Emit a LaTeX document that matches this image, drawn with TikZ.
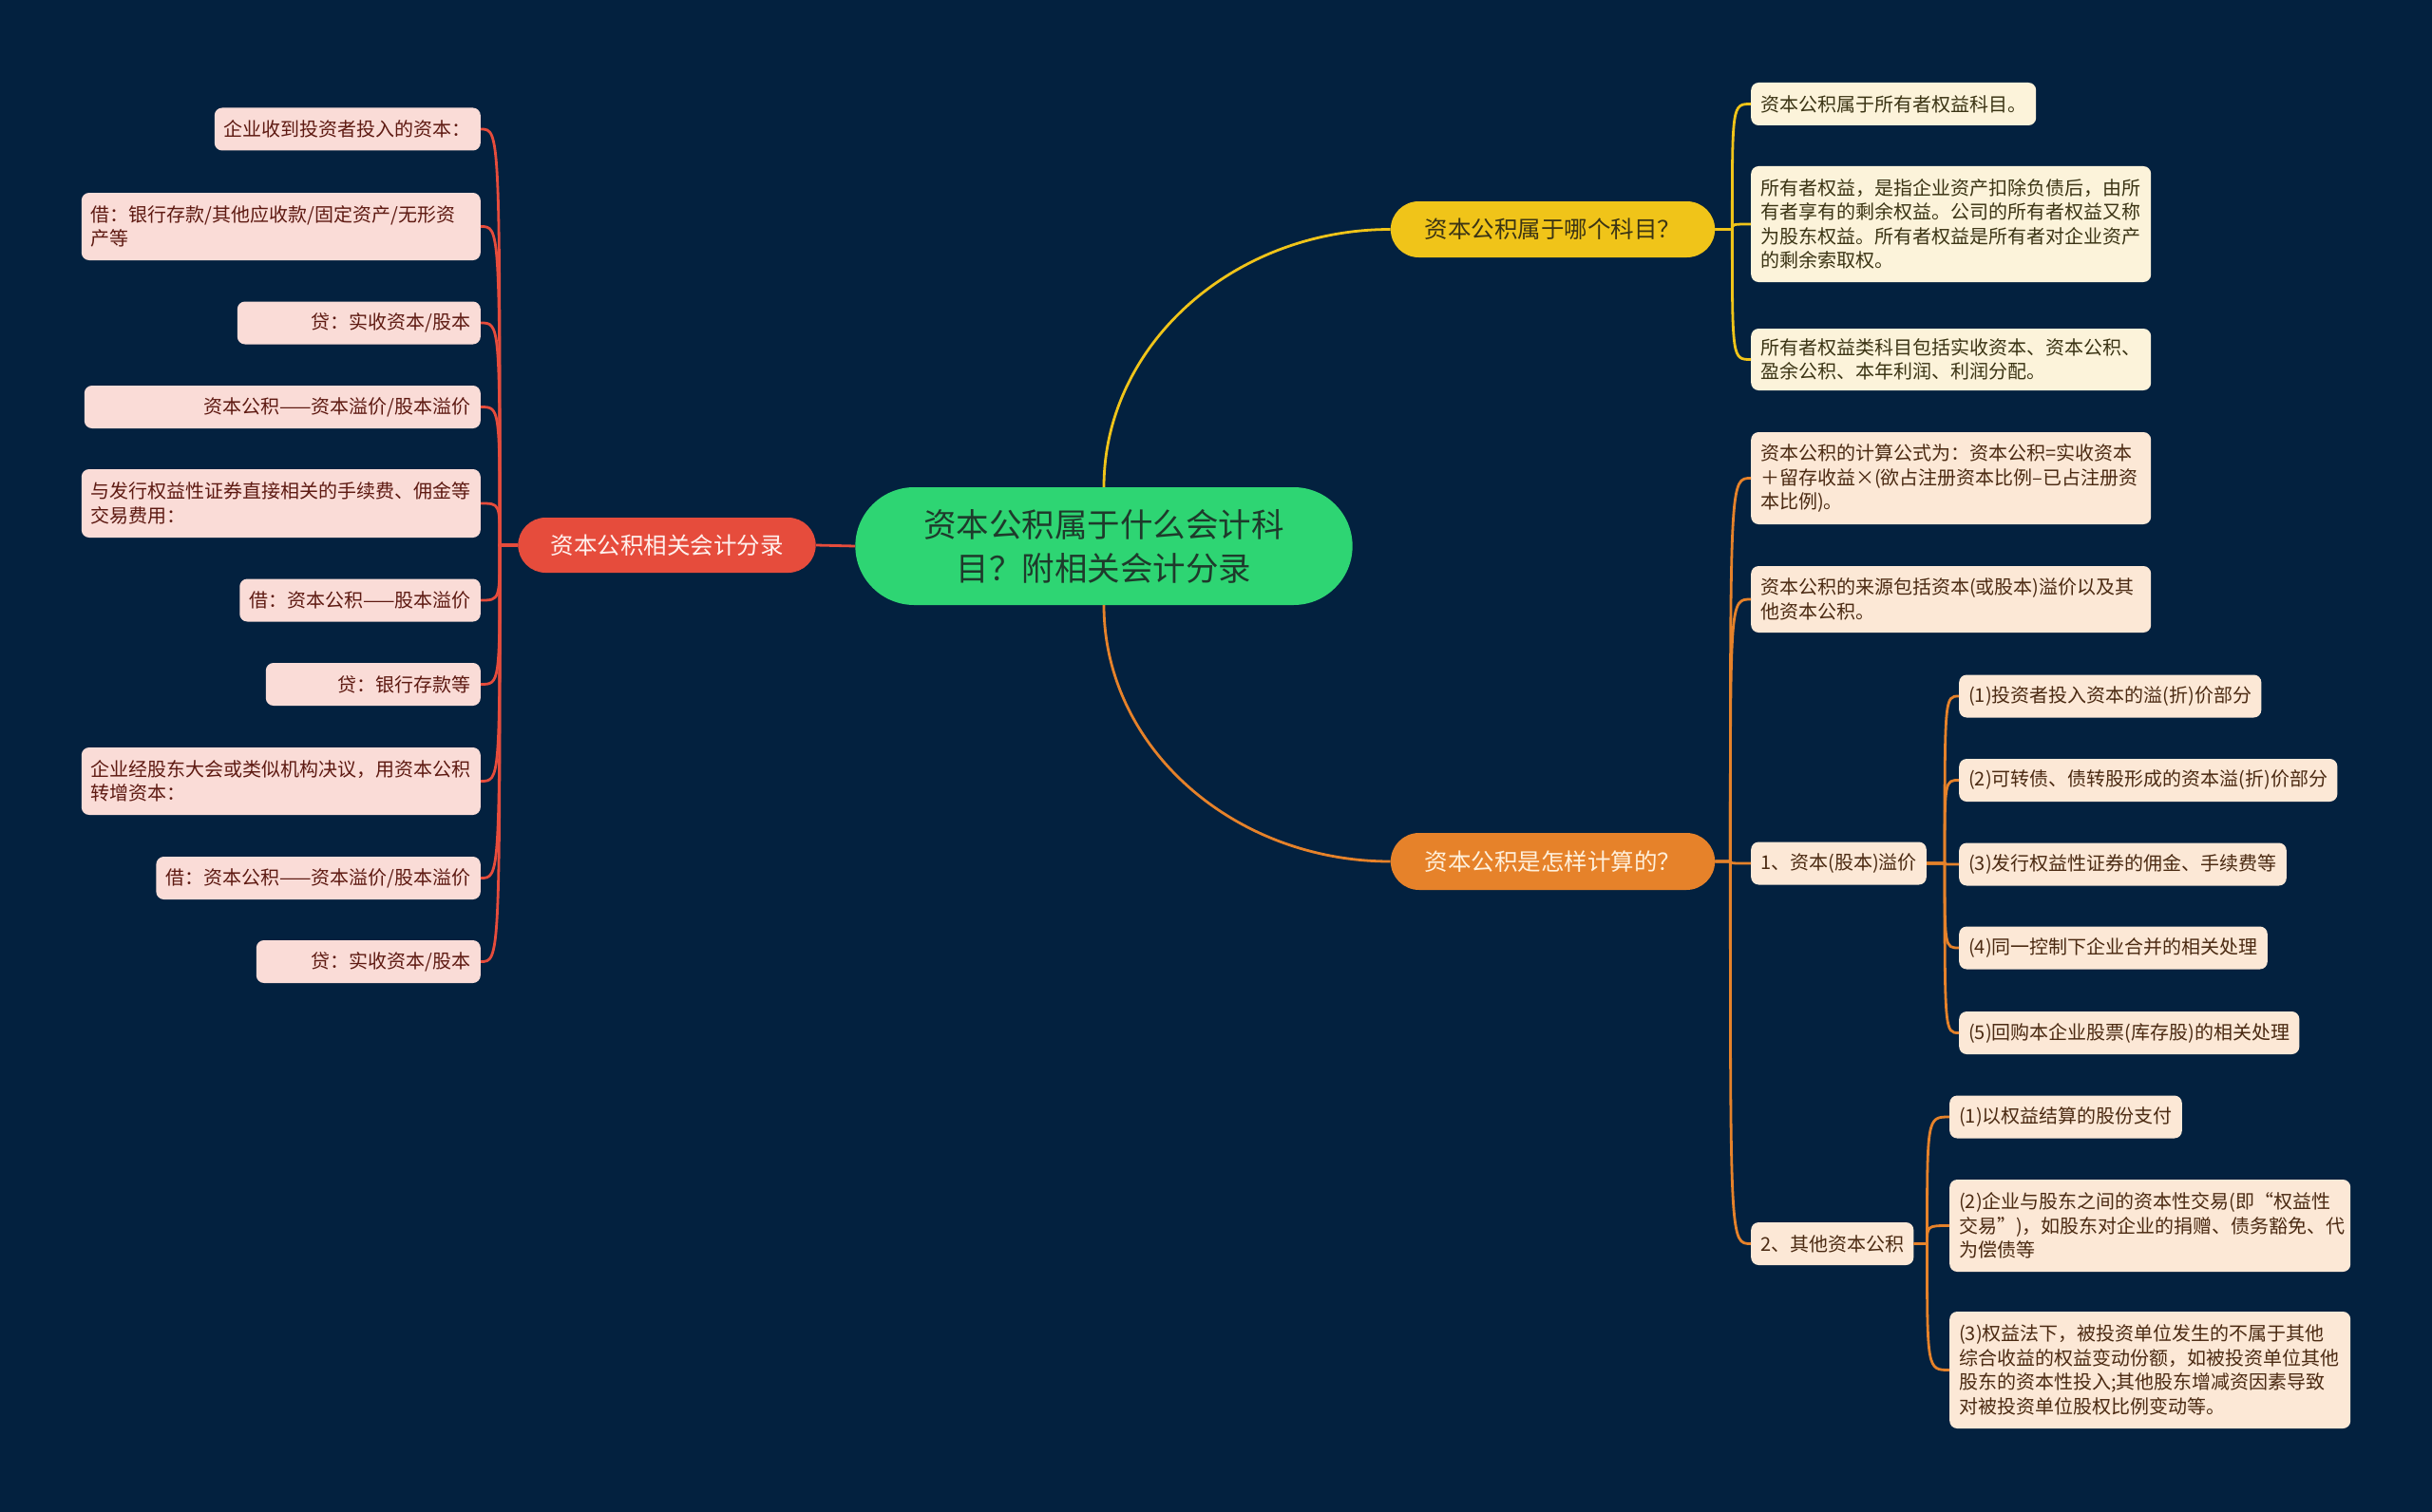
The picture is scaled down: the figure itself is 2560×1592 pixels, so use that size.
\documentclass[tikz,border=0pt]{standalone}
\usepackage{fontspec}
\setmainfont{Noto Sans CJK SC}
\usepackage{tikz}
\usetikzlibrary{shapes.misc}
\definecolor{Navy}{HTML}{03213F}
\definecolor{RootFill}{HTML}{2ED573}
\definecolor{RootText}{HTML}{1E3A2B}
\definecolor{RedMain}{HTML}{E64C3C}
\definecolor{RedLeaf}{HTML}{FADCD7}
\definecolor{RedText}{HTML}{5E1A12}
\definecolor{RedTopicText}{HTML}{FFF1EE}
\definecolor{YellowMain}{HTML}{F0C419}
\definecolor{YellowLeaf}{HTML}{FCF3DA}
\definecolor{YellowText}{HTML}{3B3414}
\definecolor{OrangeMain}{HTML}{E6822A}
\definecolor{OrangeLeaf}{HTML}{FCE8D6}
\definecolor{OrangeText}{HTML}{4B2A12}
\definecolor{OrangeTopicText}{HTML}{FFF0DB}
\tikzset{
  rootnode/.style={rounded rectangle, fill=RootFill, text=RootText,
    minimum width=530pt, minimum height=124pt, align=center,
    font=\fontsize{34.5}{46}\selectfont},
  topic/.style={rounded rectangle, minimum width=348pt, minimum height=59pt,
    font=\fontsize{24.5}{30}\selectfont},
  leaf/.style={rectangle, rounded corners=8pt, inner xsep=10pt, inner ysep=6pt,
    minimum height=45pt, font=\fontsize{20}{25.5}\selectfont},
  redleaf/.style={leaf, fill=RedLeaf, text=RedText, anchor=east},
  yellowleaf/.style={leaf, fill=YellowLeaf, text=YellowText, anchor=west},
  orangeleaf/.style={leaf, fill=OrangeLeaf, text=OrangeText, anchor=west},
  redlink/.style={draw=RedMain, line width=2.8pt},
  yellowlink/.style={draw=YellowMain, line width=2.8pt},
  orangelink/.style={draw=OrangeMain, line width=2.8pt}
}
\begin{document}
\begin{tikzpicture}[x=1pt, y=-1pt]
  \fill[Navy] (0,0) rectangle (2560,1592);
  \useasboundingbox (0,0) rectangle (2560,1592);

  % centre and main topics
  \node[rootnode] (root) at (1162,575) {资本公积属于什么会计科\\目？附相关会计分录};
  \node[topic, fill=RedMain, text=RedTopicText, minimum width=320pt, minimum height=58pt] (entries) at (702,574) {资本公积相关会计分录};
  \node[topic, fill=YellowMain, text=YellowText] (subject) at (1634.5,241.5) {资本公积属于哪个科目？};
  \node[topic, fill=OrangeMain, text=OrangeTopicText, minimum height=60pt] (calc) at (1634.5,907) {资本公积是怎样计算的？};

  % left: journal entries
  \node[redleaf] (r1) at (506,136) {企业收到投资者投入的资本：};
  \node[redleaf, text width=400pt, align=left, minimum height=71pt] (r2) at (506,238.5) {借：银行存款/其他应收款/固定资产/无形资\\产等};
  \node[redleaf, text width=236pt, align=right] (r3) at (506,340) {贷：实收资本/股本};
  \node[redleaf, text width=397pt, align=right] (r4) at (506,428.5) {资本公积——资本溢价/股本溢价};
  \node[redleaf, text width=400pt, align=left, minimum height=72pt] (r5) at (506,530) {与发行权益性证券直接相关的手续费、佣金等\\交易费用：};
  \node[redleaf] (r6) at (506,632) {借：资本公积——股本溢价};
  \node[redleaf, text width=206pt, align=right] (r7) at (506,720.5) {贷：银行存款等};
  \node[redleaf, text width=400pt, align=left, minimum height=71pt] (r8) at (506,822.5) {企业经股东大会或类似机构决议，用资本公积\\转增资本：};
  \node[redleaf] (r9) at (506,924.5) {借：资本公积——资本溢价/股本溢价};
  \node[redleaf, text width=216pt, align=right] (r10) at (506,1012.5) {贷：实收资本/股本};

  % right top: which account
  \node[yellowleaf] (y1) at (1843,109.5) {资本公积属于所有者权益科目。};
  \node[yellowleaf, text width=401pt, align=left, minimum height=122pt] (y2) at (1843,236) {所有者权益，是指企业资产扣除负债后，由所\\有者享有的剩余权益。公司的所有者权益又称\\为股东权益。所有者权益是所有者对企业资产\\的剩余索取权。};
  \node[yellowleaf, text width=401pt, align=left, minimum height=65pt] (y3) at (1843,378.5) {所有者权益类科目包括实收资本、资本公积、\\盈余公积、本年利润、利润分配。};

  % right bottom: calculation
  \node[orangeleaf, text width=401pt, align=left, minimum height=97pt] (o1) at (1843,503.5) {资本公积的计算公式为：资本公积=实收资本\\＋留存收益×(欲占注册资本比例–已占注册资\\本比例)。};
  \node[orangeleaf, text width=401pt, align=left, minimum height=70pt] (o2) at (1843,631) {资本公积的来源包括资本(或股本)溢价以及其\\他资本公积。};
  \node[orangeleaf] (o3) at (1843,909) {1、资本(股本)溢价};
  \node[orangeleaf] (o4) at (1843,1309.5) {2、其他资本公积};
  \node[orangeleaf] (c1) at (2062,733) {(1)投资者投入资本的溢(折)价部分};
  \node[orangeleaf] (c2) at (2062,821.5) {(2)可转债、债转股形成的资本溢(折)价部分};
  \node[orangeleaf] (c3) at (2062,910) {(3)发行权益性证券的佣金、手续费等};
  \node[orangeleaf] (c4) at (2062,998) {(4)同一控制下企业合并的相关处理};
  \node[orangeleaf] (c5) at (2062,1087.5) {(5)回购本企业股票(库存股)的相关处理};
  \node[orangeleaf] (d1) at (2052,1176) {(1)以权益结算的股份支付};
  \node[orangeleaf, text width=402pt, align=left, minimum height=97pt] (d2) at (2052,1290.5) {(2)企业与股东之间的资本性交易(即“权益性\\交易”)，如股东对企业的捐赠、债务豁免、代\\为偿债等};
  \node[orangeleaf, text width=402pt, align=left, minimum height=123pt] (d3) at (2052,1442.5) {(3)权益法下，被投资单位发生的不属于其他\\综合收益的权益变动份额，如被投资单位其他\\股东的资本性投入;其他股东增减资因素导致\\对被投资单位股权比例变动等。};

  % spine points
  \coordinate (rs) at ([xshift=-19pt]entries.west);
  \coordinate (ys) at ([xshift=18pt]subject.east);
  \coordinate (os) at ([xshift=16pt]calc.east);
  \coordinate (ps) at ([xshift=19pt]o3.east);
  \coordinate (qs) at ([xshift=14pt]o4.east);

  % connectors
  \draw[redlink] (root.west) -- (entries.east);
  \draw[yellowlink] (root.north) .. controls +(0,-150) and +(-165,0) .. (subject.west);
  \draw[orangelink] (root.south) .. controls +(0,150) and +(-165,0) .. (calc.west);
  \draw[redlink] (entries.west) -- (rs) .. controls (rs |- r1.east) .. (r1.east);
  \draw[redlink] (entries.west) -- (rs) .. controls (rs |- r2.east) .. (r2.east);
  \draw[redlink] (entries.west) -- (rs) .. controls (rs |- r3.east) .. (r3.east);
  \draw[redlink] (entries.west) -- (rs) .. controls (rs |- r4.east) .. (r4.east);
  \draw[redlink] (entries.west) -- (rs) .. controls (rs |- r5.east) .. (r5.east);
  \draw[redlink] (entries.west) -- (rs) .. controls (rs |- r6.east) .. (r6.east);
  \draw[redlink] (entries.west) -- (rs) .. controls (rs |- r7.east) .. (r7.east);
  \draw[redlink] (entries.west) -- (rs) .. controls (rs |- r8.east) .. (r8.east);
  \draw[redlink] (entries.west) -- (rs) .. controls (rs |- r9.east) .. (r9.east);
  \draw[redlink] (entries.west) -- (rs) .. controls (rs |- r10.east) .. (r10.east);
  \draw[yellowlink] (subject.east) -- (ys) .. controls (ys |- y1.west) .. (y1.west);
  \draw[yellowlink] (subject.east) -- (ys) .. controls (ys |- y2.west) .. (y2.west);
  \draw[yellowlink] (subject.east) -- (ys) .. controls (ys |- y3.west) .. (y3.west);
  \draw[orangelink] (calc.east) -- (os) .. controls (os |- o1.west) .. (o1.west);
  \draw[orangelink] (calc.east) -- (os) .. controls (os |- o2.west) .. (o2.west);
  \draw[orangelink] (calc.east) -- (os) .. controls (os |- o3.west) .. (o3.west);
  \draw[orangelink] (calc.east) -- (os) .. controls (os |- o4.west) .. (o4.west);
  \draw[orangelink] (o3.east) -- (ps) .. controls (ps |- c1.west) .. (c1.west);
  \draw[orangelink] (o3.east) -- (ps) .. controls (ps |- c2.west) .. (c2.west);
  \draw[orangelink] (o3.east) -- (ps) .. controls (ps |- c3.west) .. (c3.west);
  \draw[orangelink] (o3.east) -- (ps) .. controls (ps |- c4.west) .. (c4.west);
  \draw[orangelink] (o3.east) -- (ps) .. controls (ps |- c5.west) .. (c5.west);
  \draw[orangelink] (o4.east) -- (qs) .. controls (qs |- d1.west) .. (d1.west);
  \draw[orangelink] (o4.east) -- (qs) .. controls (qs |- d2.west) .. (d2.west);
  \draw[orangelink] (o4.east) -- (qs) .. controls (qs |- d3.west) .. (d3.west);
\end{tikzpicture}
\end{document}
